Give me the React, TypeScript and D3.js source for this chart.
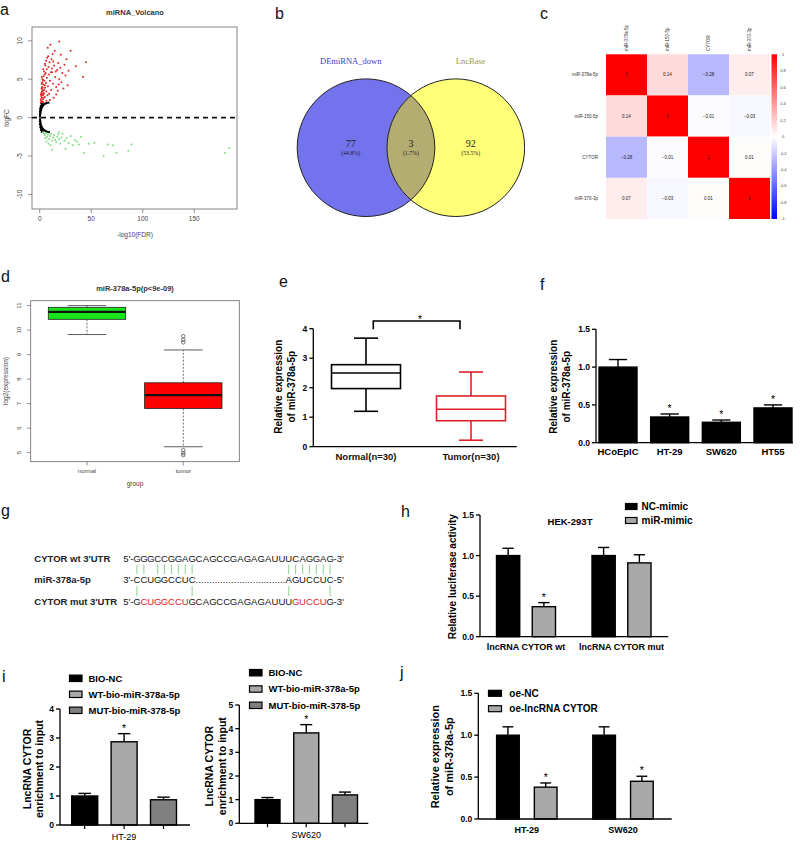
import React from 'react';
import * as d3 from 'd3';

const SANS = "'Liberation Sans', Arial, Helvetica, sans-serif";
const SERIF = "'Liberation Serif', 'DejaVu Serif', serif";

// ---------- a: volcano ----------
const volcanoUp: [number, number][] = [
  [1.5,2.2],[2,2.6],[2.5,3.1],[3,3.5],[2.2,4.0],[3.5,4.3],[2.8,2.9],[4,3.2],[1.8,3.8],[3.2,2.4],[4.5,4.8],[2.6,5.0],
  [5.2,3.9],[3.8,5.4],[6,4.5],[5,2.7],[6.5,3.4],[4.2,6.0],[7,5.2],[2.4,4.6],[3.6,3.0],[5.8,5.8],[8,4.1],[7.5,2.9],
  [9,5.6],[6.8,6.3],[10,4.8],[11,3.6],[8.5,6.6],[12,5.9],[9.5,7.2],[13,4.4],[14,6.8],[11.5,7.6],[15,5.3],[16,4.0],
  [7.2,7.8],[17,6.2],[18,7.1],[12.5,8.3],[19,5.0],[20,6.5],[21,4.6],[22,5.8],[14.5,8.7],[24,6.9],[25,5.5],[10.3,9.5],
  [19,9.9],[30,8.7],[45,7.2],[42,5.3],[35,6.7],[27,4.2],[23,3.8],[16,3.0],[13.5,2.6],[9.8,2.3],[1.2,2.0],[0.9,2.4],
  [1.6,3.2],[2.1,3.4],[2.9,3.9],[3.1,4.9],[1.9,4.4],[4.8,5.6],[5.5,6.8],[6.2,7.4],[8.2,8.0],[4.4,3.6],[3.3,2.0],
  [6.5,2.2],[26,7.6],[28,6.1],[20.5,8.2],[17.5,3.5],[1.4,2.8],[2.3,2.1],[3.9,2.6],[1.1,3.0],[2.7,3.6],[4.9,4.2],
  [2.0,5.3],[3.4,6.3],[5.1,7.0],[7.8,9.1],[11.8,6.4],[13.2,7.3],[9.1,3.1],[10.8,5.9],[15.6,6.0],[18.4,4.3]
];
const volcanoNs: [number, number][] = [
  [0.2,0.1],[0.3,-0.2],[0.4,0.3],[0.5,-0.4],[0.6,0.5],[0.7,-0.6],[0.9,0.7],[1.0,-0.8],[1.2,0.9],[1.3,-1.0],
  [1.5,1.1],[1.7,-1.15],[1.9,1.25],[2.1,-1.3],[2.4,1.4],[2.6,-1.4],[2.9,1.5],[3.1,-1.5],[3.4,1.6],[3.6,-1.55],
  [4.0,1.7],[4.3,-1.65],[4.8,1.8],[5.2,-1.7],[5.8,1.85],[6.3,-1.8],[7.0,1.9],[7.5,-1.85],[0.3,0.6],[0.4,-0.8],
  [0.6,1.0],[0.8,-1.2],[1.1,1.3],[1.4,-1.45],[1.8,1.6],[2.2,-1.6],[2.7,1.75],[3.0,-1.75],[0.2,-0.5],[0.25,0.8],
  [0.5,1.2],[0.7,-1.3],[1.0,1.5],[1.2,-1.6],[1.6,1.85],[2.0,-1.85],[8.5,1.95],[9,-1.9],[0.15,0.4],[0.2,-0.9]
];
const volcanoDown: [number, number][] = [
  [3,-1.9],[4,-2.1],[5,-2.3],[6,-2.0],[7,-2.5],[8,-2.2],[9,-2.8],[10,-2.4],[11,-2.1],[12,-3.0],[13,-2.6],[14,-2.3],
  [15,-2.9],[16,-3.2],[17,-2.5],[18,-2.2],[19,-2.8],[20,-3.4],[21,-2.6],[22,-2.1],[24,-3.0],[26,-2.7],[28,-3.3],
  [30,-2.4],[32,-3.6],[34,-2.9],[38,-3.5],[43,-4.6],[47.5,-3.4],[53,-3.3],[62,-5.0],[66,-3.5],[71,-3.6],[74.5,-4.6],
  [86,-4.3],[89,-3.5],[180,-4.6],[184,-4.0],[12,-4.2],[6.5,-3.1],[8.5,-3.4],[5.5,-2.7],[10.5,-3.6],[18.5,-1.9],
  [25,-4.1],[40,-2.5],[36,-3.1]
];
const volcanoXTicks = [0, 50, 100, 150];
const volcanoYTicks = [-10, -5, 0, 5, 10];

// ---------- b: venn ----------
const vennSets = ['DEmiRNA_down', 'LncBase'];
const vennCounts = ['77', '3', '92'];
const vennPcts = ['(44.8%)', '(1.7%)', '(53.5%)'];

// ---------- c: correlation heatmap ----------
const heatLabels = ['miR-378a-5p', 'miR-150-5p', 'CYTOR', 'miR-370-3p'];
const heatValues = [
  [1, 0.14, -0.28, 0.07],
  [0.14, 1, -0.01, -0.03],
  [-0.28, -0.01, 1, 0.01],
  [0.07, -0.03, 0.01, 1]
];
const heatTicks = [1, 0.8, 0.6, 0.4, 0.2, 0, -0.2, -0.4, -0.6, -0.8, -1];

// ---------- d: TCGA boxplot ----------
const tcgaGroups = ['normal', 'tumor'];
const tcgaStats = [
  { lo: 9.82, q1: 10.44, med: 10.74, q3: 10.93, hi: 11.0, out: [] as number[] },
  { lo: 5.24, q1: 6.8, med: 7.35, q3: 7.85, hi: 9.19, out: [9.75, 9.6, 9.5, 5.1, 4.98, 4.9] }
];
const tcgaTicks = [5, 6, 7, 8, 9, 10, 11];

// ---------- e: qPCR boxplot ----------
const qGroups = ['Normal(n=30)', 'Tumor(n=30)'];
const qStats = [
  { lo: 1.2, q1: 1.97, med: 2.5, q3: 2.78, hi: 3.68 },
  { lo: 0.22, q1: 0.88, med: 1.27, q3: 1.72, hi: 2.53 }
];
const qColors = ['#000000', '#e0202a'];

// ---------- f ----------
const cellLines = ['HCoEpIC', 'HT-29', 'SW620', 'HT55'];
const cellMeans = [1.0, 0.34, 0.27, 0.46];
const cellErrs = [0.1, 0.04, 0.03, 0.04];
const cellSig = [false, true, true, true];

// ---------- g ----------
const seqLabels = ["CYTOR wt 3'UTR", 'miR-378a-5p', "CYTOR mut 3'UTR"];
const wtBases = 'GGGCCGGAGCAGCCGAGAGAUUUCAGGAG';
const mutBases = 'GCUGGCCUGCAGCCGAGAGAUUUGUCCUG';
const mutRed = [1, 2, 3, 4, 5, 6, 7, 23, 24, 25, 26, 27];
const mirLeft = 'CCUGGCCUC';
const mirRight = 'AGUCCUC';
const pairsTop = [0, 1, 3, 4, 5, 6, 7, 8, 22, 23, 24, 25, 26, 27, 28];
const pairsBottom = [0, 8, 22, 28];

// ---------- h ----------
const lucGroups = ['lncRNA CYTOR wt', 'lncRNA CYTOR mut'];
const lucSeries = ['NC-mimic', 'miR-mimic'];
const lucMeans = [[1.0, 0.37], [1.0, 0.91]];
const lucErrs = [[0.09, 0.05], [0.1, 0.1]];
const lucSig = [[false, true], [false, false]];

// ---------- i ----------
const pullSeries = ['BIO-NC', 'WT-bio-miR-378a-5p', 'MUT-bio-miR-378-5p'];
const pullHT29 = [1.0, 2.87, 0.87];
const pullHT29Err = [0.09, 0.28, 0.09];
const pullSW620 = [1.0, 3.82, 1.2];
const pullSW620Err = [0.09, 0.35, 0.12];
const pullSig = [false, true, false];

// ---------- j ----------
const oeGroups = ['HT-29', 'SW620'];
const oeSeries = ['oe-NC', 'oe-lncRNA CYTOR'];
const oeMeans = [[1.0, 0.38], [1.0, 0.45]];
const oeErrs = [[0.1, 0.05], [0.1, 0.06]];
const oeSig = [[false, true], [false, true]];

const GRAY1 = '#a9a9a9';
const GRAY2 = '#808080';

function PanelLabel({ x, y, t }: { x: number; y: number; t: string }) {
  return <text x={x} y={y} fontSize={16} fontFamily={SANS} fill="#111">{t}</text>;
}

function gpYAxis(scale: d3.ScaleLinear<number, number>, x: number, ticks: number[], fmt: (n: number) => string, fs = 8.5) {
  const [d0, d1] = scale.domain();
  return (
    <g>
      <line x1={x} x2={x} y1={scale(d0)} y2={scale(d1)} stroke="#000" strokeWidth={1.3} />
      {ticks.map(t => (
        <g key={t}>
          <line x1={x - 4} x2={x} y1={scale(t)} y2={scale(t)} stroke="#000" strokeWidth={1.3} />
          <text x={x - 6} y={scale(t)} dy="0.35em" textAnchor="end" fontSize={fs} fontWeight="bold" fontFamily={SANS}>{fmt(t)}</text>
        </g>
      ))}
    </g>
  );
}

function barWithErr(key: string, cx: number, w: number, v: number, e: number, y: d3.ScaleLinear<number, number>, fill: string, sig: boolean) {
  const top = y(v), et = y(v + e), base = y(0);
  return (
    <g key={key}>
      <line x1={cx} x2={cx} y1={top} y2={et} stroke="#000" strokeWidth={1.4} />
      <line x1={cx - w * 0.24} x2={cx + w * 0.24} y1={et} y2={et} stroke="#000" strokeWidth={1.4} />
      <rect x={cx - w / 2} y={top} width={w} height={base - top} fill={fill} stroke="#000" strokeWidth={1.4} />
      {sig && <text x={cx} y={et - 2} textAnchor="middle" fontSize={10.5} fontFamily={SANS}>*</text>}
    </g>
  );
}

function RotLabel({ x, y, lines, fs, gap }: { x: number; y: number; lines: string[]; fs: number; gap: number }) {
  return (
    <g>
      {lines.map((l, i) => (
        <text key={i} transform={`translate(${x + i * gap},${y}) rotate(-90)`} textAnchor="middle" dominantBaseline="central"
          fontSize={fs} fontWeight="bold" fontFamily={SANS}>{l}</text>
      ))}
    </g>
  );
}

function PanelA() {
  const x = d3.scaleLinear().domain([-7.5, 191.5]).range([32, 237]);
  const y = d3.scaleLinear().domain([-11.9, 11.8]).range([209, 27]);
  return (
    <g fontFamily={SANS}>
      <PanelLabel x={0} y={15} t="a" />
      <text x={135} y={15} textAnchor="middle" fontSize={7.5} fontWeight="bold" fill="#333">miRNA_Volcano</text>
      <rect x={32} y={27} width={205} height={182} fill="none" stroke="#666" strokeWidth={0.8} />
      {volcanoXTicks.map(t => (
        <g key={t}>
          <line x1={x(t)} x2={x(t)} y1={209} y2={213} stroke="#666" strokeWidth={0.7} />
          <text x={x(t)} y={221} textAnchor="middle" fontSize={6.5} fill="#444">{t}</text>
        </g>
      ))}
      {volcanoYTicks.map(t => (
        <g key={t}>
          <line x1={28} x2={32} y1={y(t)} y2={y(t)} stroke="#666" strokeWidth={0.7} />
          <text transform={`translate(22,${y(t)}) rotate(-90)`} textAnchor="middle" fontSize={6.5} fill="#444">{t}</text>
        </g>
      ))}
      <text x={135} y={237} textAnchor="middle" fontSize={6.5} fill="#444">-log10(FDR)</text>
      <text transform={`translate(9,118) rotate(-90)`} textAnchor="middle" fontSize={6.5} fill="#444">logFC</text>
      {volcanoNs.map((p, i) => <circle key={'n' + i} cx={x(p[0])} cy={y(p[1])} r={1.1} fill="#000" />)}
      {volcanoUp.map((p, i) => <circle key={'u' + i} cx={x(p[0])} cy={y(p[1])} r={1.0} fill="#e02828" />)}
      {volcanoDown.map((p, i) => <circle key={'d' + i} cx={x(p[0])} cy={y(p[1])} r={1.0} fill="#7fdc7f" />)}
      <line x1={32} x2={237} y1={y(0)} y2={y(0)} stroke="#111" strokeWidth={1.6} strokeDasharray="5,4" />
    </g>
  );
}

function PanelB() {
  const cx = d3.scalePoint().domain(vennSets).range([366, 455.8]);
  const r = 68.8, cy = 147.7;
  const lx = cx(vennSets[0])!, rx = cx(vennSets[1])!;
  const mid = (lx + rx) / 2;
  const numX = [350.7, mid, 470.7];
  return (
    <g>
      <PanelLabel x={275} y={19} t="b" />
      <defs>
        <clipPath id="vennclip"><circle cx={lx} cy={cy} r={r} /></clipPath>
      </defs>
      <circle cx={lx} cy={cy} r={r} fill="#7373ee" />
      <circle cx={rx} cy={cy} r={r} fill="#ffff78" />
      <circle cx={rx} cy={cy} r={r} fill="#b3ad72" clipPath="url(#vennclip)" />
      <circle cx={lx} cy={cy} r={r} fill="none" stroke="#222" strokeWidth={1} />
      <circle cx={rx} cy={cy} r={r} fill="none" stroke="#222" strokeWidth={1} />
      <text x={350.7} y={64} textAnchor="middle" fontSize={8.5} fontFamily={SERIF} fill="#3a3acc">{vennSets[0]}</text>
      <text x={470.7} y={64} textAnchor="middle" fontSize={8.5} fontFamily={SERIF} fill="#9a9a50">{vennSets[1]}</text>
      {vennCounts.map((c, i) => (
        <g key={i}>
          <text x={numX[i]} y={147.3} textAnchor="middle" fontSize={10} fontFamily={SERIF} fill="#222">{c}</text>
          <text x={numX[i]} y={154.5} textAnchor="middle" fontSize={5.8} fontFamily={SERIF} fill="#222">{vennPcts[i]}</text>
        </g>
      ))}
    </g>
  );
}

function PanelC() {
  const x = d3.scaleBand().domain(heatLabels).range([606, 770]);
  const y = d3.scaleBand().domain(heatLabels).range([54.3, 219]);
  const color = d3.scaleLinear<string>().domain([-1, 0, 1]).range(['#0000ff', '#ffffff', '#ff0000']);
  const cb = d3.scaleLinear().domain([-1, 1]).range([219, 54.3]);
  return (
    <g fontFamily={SANS}>
      <PanelLabel x={540} y={19} t="c" />
      <defs>
        <linearGradient id="cbgrad" x1="0" y1="1" x2="0" y2="0">
          <stop offset="0%" stopColor={color(-1)} />
          <stop offset="50%" stopColor={color(0)} />
          <stop offset="100%" stopColor={color(1)} />
        </linearGradient>
      </defs>
      {heatValues.map((row, i) => row.map((v, j) => (
        <g key={i + '-' + j}>
          <rect x={x(heatLabels[j])!} y={y(heatLabels[i])!} width={x.bandwidth()} height={y.bandwidth()} fill={color(v)} />
          <text x={x(heatLabels[j])! + x.bandwidth() / 2} y={y(heatLabels[i])! + y.bandwidth() / 2} dy="0.35em"
            textAnchor="middle" fontSize={4.5} fill="#222">{v === 1 ? '1' : d3.format('.2f')(v)}</text>
        </g>
      )))}
      {heatLabels.map(l => (
        <g key={l}>
          <text x={598} y={y(l)! + y.bandwidth() / 2} dy="0.35em" textAnchor="end" fontSize={4.5} fill="#333">{l}</text>
          <text transform={`translate(${x(l)! + x.bandwidth() / 2},51) rotate(-90)`} dy="0.35em" textAnchor="start" fontSize={4.5} fill="#333">{l}</text>
        </g>
      ))}
      <rect x={771.5} y={54.3} width={5.5} height={164.7} fill="url(#cbgrad)" />
      {heatTicks.map(t => (
        <text key={t} x={783} y={cb(t)} dy="0.35em" fontSize={4} textAnchor="middle" fill="#444">{t}</text>
      ))}
    </g>
  );
}

function PanelD() {
  const x = d3.scalePoint().domain(tcgaGroups).range([87, 183.3]);
  const y = d3.scaleLinear().domain([4.63, 11.2]).range([461.7, 300.7]);
  const hw = 38.7;
  const fills = ['#19e619', '#ff0000'];
  return (
    <g fontFamily={SANS}>
      <PanelLabel x={1} y={282} t="d" />
      <text x={135} y={291} textAnchor="middle" fontSize={7.5} fontWeight="bold" fill="#333">miR-378a-5p(p&lt;9e-09)</text>
      <rect x={30.7} y={300.7} width={208.6} height={161} fill="none" stroke="#666" strokeWidth={0.8} />
      {tcgaTicks.map(t => (
        <g key={t}>
          <line x1={27} x2={30.7} y1={y(t)} y2={y(t)} stroke="#666" strokeWidth={0.7} />
          <text transform={`translate(21,${y(t)}) rotate(-90)`} textAnchor="middle" fontSize={6} fill="#444">{t}</text>
        </g>
      ))}
      <text transform={`translate(8,381) rotate(-90)`} textAnchor="middle" fontSize={6.5} fill="#444">log2(expression)</text>
      {tcgaGroups.map((g, i) => {
        const s = tcgaStats[i];
        const cx = x(g)!;
        return (
          <g key={g}>
            <line x1={cx} x2={cx} y1={461.7} y2={465.5} stroke="#666" strokeWidth={0.7} />
            <text x={cx} y={473} textAnchor="middle" fontSize={6} fill="#444">{g}</text>
            <line x1={cx} x2={cx} y1={y(s.q3)} y2={y(s.hi)} stroke="#333" strokeWidth={0.7} strokeDasharray="2,1.5" />
            <line x1={cx} x2={cx} y1={y(s.q1)} y2={y(s.lo)} stroke="#333" strokeWidth={0.7} strokeDasharray="2,1.5" />
            <line x1={cx - hw / 2} x2={cx + hw / 2} y1={y(s.hi)} y2={y(s.hi)} stroke="#333" strokeWidth={0.8} />
            <line x1={cx - hw / 2} x2={cx + hw / 2} y1={y(s.lo)} y2={y(s.lo)} stroke="#333" strokeWidth={0.8} />
            <rect x={cx - hw} y={y(s.q3)} width={hw * 2} height={y(s.q1) - y(s.q3)} fill={fills[i]} stroke="#222" strokeWidth={0.8} />
            <line x1={cx - hw} x2={cx + hw} y1={y(s.med)} y2={y(s.med)} stroke="#111" strokeWidth={2.2} />
            {s.out.map((o, k) => <circle key={k} cx={cx} cy={y(o)} r={1.8} fill="none" stroke="#444" strokeWidth={0.7} />)}
          </g>
        );
      })}
      <text x={135} y={486} textAnchor="middle" fontSize={6.5} fill="#444">group</text>
    </g>
  );
}

function PanelE() {
  const x = d3.scalePoint().domain(qGroups).range([366, 471]);
  const y = d3.scaleLinear().domain([0, 4]).range([446.7, 328.7]);
  const hw = 34.5, cw = 12;
  return (
    <g fontFamily={SANS}>
      <PanelLabel x={279} y={287} t="e" />
      {gpYAxis(y, 313.3, [0, 1, 2, 3, 4], d3.format('d'), 8.5)}
      <line x1={313.3} x2={516.7} y1={y(0)} y2={y(0)} stroke="#000" strokeWidth={1.3} />
      <RotLabel x={278} y={386.7} lines={['Relative expression', 'of miR-378a-5p']} fs={10} gap={13.5} />
      {qGroups.map((g, i) => {
        const s = qStats[i];
        const cx = x(g)!;
        const c = qColors[i];
        return (
          <g key={g} stroke={c} strokeWidth={1.6} fill="none">
            <line x1={cx} x2={cx} y1={y(s.q3)} y2={y(s.hi)} />
            <line x1={cx} x2={cx} y1={y(s.q1)} y2={y(s.lo)} />
            <line x1={cx - cw} x2={cx + cw} y1={y(s.hi)} y2={y(s.hi)} />
            <line x1={cx - cw} x2={cx + cw} y1={y(s.lo)} y2={y(s.lo)} />
            <rect x={cx - hw} y={y(s.q3)} width={hw * 2} height={y(s.q1) - y(s.q3)} />
            <line x1={cx - hw} x2={cx + hw} y1={y(s.med)} y2={y(s.med)} />
            <text x={cx} y={460} textAnchor="middle" fontSize={9.5} fontWeight="bold" fill="#111" stroke="none">{g}</text>
          </g>
        );
      })}
      <path d={`M373.3,${329.3}V321H460V329.3`} fill="none" stroke="#000" strokeWidth={1.6} />
      <text x={420} y={323} textAnchor="middle" fontSize={10.5} fill="#000">*</text>
    </g>
  );
}

function PanelF() {
  const x = d3.scalePoint().domain(cellLines).range([618, 773]);
  const y = d3.scaleLinear().domain([0, 1.5]).range([442.7, 329.3]);
  const w = 38;
  return (
    <g fontFamily={SANS}>
      <PanelLabel x={540} y={290} t="f" />
      {gpYAxis(y, 596, [0, 0.5, 1, 1.5], d3.format('.1f'), 8.5)}
      <RotLabel x={553} y={386.7} lines={['Relative expression', 'of miR-378a-5p']} fs={10} gap={13.5} />
      {cellLines.map((c, i) => barWithErr(c, x(c)!, w, cellMeans[i], cellErrs[i], y, '#000', cellSig[i]))}
      <line x1={596} x2={793} y1={y(0)} y2={y(0)} stroke="#000" strokeWidth={1.3} />
      {cellLines.map(c => (
        <text key={c} x={x(c)!} y={455} textAnchor="middle" fontSize={9.5} fontWeight="bold">{c}</text>
      ))}
    </g>
  );
}

function PanelG() {
  const bx = d3.scaleLinear().domain([0, 29]).range([133.5, 333.6]);
  const step = bx(1) - bx(0);
  const cx = (i: number) => bx(i) + step / 2;
  const rows = [561.7, 583.4, 605];
  const fs = 9.5;
  const ink = '#111';
  return (
    <g fontFamily={SANS} fontSize={fs}>
      <PanelLabel x={1} y={516} t="g" />
      {seqLabels.map((l, i) => (
        <text key={l} x={34.3} y={rows[i]} fontWeight="bold" fill="#222">{l}</text>
      ))}
      <text x={bx(0)} y={rows[0]} textAnchor="end" fill={ink}>5'-</text>
      {wtBases.split('').map((b, i) => (
        <text key={'w' + i} x={cx(i)} y={rows[0]} textAnchor="middle" fill={ink}>{b}</text>
      ))}
      <text x={bx(29)} y={rows[0]} fill={ink}>-3'</text>
      <text x={bx(0)} y={rows[1]} textAnchor="end" fill={ink}>3'-</text>
      {mirLeft.split('').map((b, i) => (
        <text key={'l' + i} x={cx(i)} y={rows[1]} textAnchor="middle" fill={ink}>{b}</text>
      ))}
      <text x={bx(9)} y={rows[1]} textLength={bx(22) - bx(9)} lengthAdjust="spacing" fill={ink}>{'.'.repeat(33)}</text>
      {mirRight.split('').map((b, i) => (
        <text key={'r' + i} x={cx(22 + i)} y={rows[1]} textAnchor="middle" fill={ink}>{b}</text>
      ))}
      <text x={bx(29)} y={rows[1]} fill={ink}>-5'</text>
      <text x={bx(0)} y={rows[2]} textAnchor="end" fill={ink}>5'-</text>
      {mutBases.split('').map((b, i) => (
        <text key={'m' + i} x={cx(i)} y={rows[2]} textAnchor="middle" fill={mutRed.includes(i) ? '#e02020' : ink}>{b}</text>
      ))}
      <text x={bx(29)} y={rows[2]} fill={ink}>-3'</text>
      {pairsTop.map(i => <line key={'pt' + i} x1={cx(i)} x2={cx(i)} y1={564.5} y2={574} stroke="#7fcf7f" strokeWidth={0.9} />)}
      {pairsBottom.map(i => <line key={'pb' + i} x1={cx(i)} x2={cx(i)} y1={586} y2={596} stroke="#7fcf7f" strokeWidth={0.9} />)}
    </g>
  );
}

function PanelH() {
  const gx = d3.scalePoint().domain(lucGroups).range([526, 621.5]);
  const sx = d3.scaleBand().domain(lucSeries).range([-29.5, 29.5]).paddingInner(0.35).paddingOuter(0);
  const y = d3.scaleLinear().domain([0, 1.5]).range([636.7, 515]);
  const fills = ['#000', GRAY1];
  return (
    <g fontFamily={SANS}>
      <PanelLabel x={401} y={517} t="h" />
      {gpYAxis(y, 480, [0, 0.5, 1, 1.5], d3.format('.1f'), 8.5)}
      <RotLabel x={452} y={576.7} lines={['Relative luciferase activity']} fs={10} gap={0} />
      {lucGroups.map((g, gi) => lucSeries.map((s, si) =>
        barWithErr(g + s, gx(g)! + sx(s)! + sx.bandwidth() / 2, sx.bandwidth(), lucMeans[gi][si], lucErrs[gi][si], y, fills[si], lucSig[gi][si])
      ))}
      <line x1={480} x2={668.3} y1={y(0)} y2={y(0)} stroke="#000" strokeWidth={1.3} />
      {lucGroups.map(g => (
        <text key={g} x={gx(g)!} y={650} textAnchor="middle" fontSize={9} fontWeight="bold">{g}</text>
      ))}
      <text x={570} y={525} textAnchor="middle" fontSize={9.5} fontWeight="bold">HEK-293T</text>
      {lucSeries.map((s, i) => (
        <g key={s}>
          <rect x={625.5} y={503.5 + i * 14} width={11.5} height={6} fill={fills[i]} stroke="#000" strokeWidth={1.2} />
          <text x={641.5} y={510.3 + i * 14} fontSize={10} fontWeight="bold">{s}</text>
        </g>
      ))}
    </g>
  );
}

function PullPanel({ x0, x1, y0, yTop, yMax, ticks, vals, errs, xlabel, cxs, w, legX, legY, legGap, labX }: any) {
  const x = d3.scalePoint().domain(pullSeries).range(cxs);
  const y = d3.scaleLinear().domain([0, yMax]).range([y0, yTop]);
  const fills = ['#000', GRAY1, GRAY2];
  return (
    <g fontFamily={SANS}>
      {gpYAxis(y, x0, ticks, d3.format('d'), 8.5)}
      <RotLabel x={labX} y={(y0 + yTop) / 2 + 2} lines={['LncRNA CYTOR', 'enrichment to input']} fs={10.5} gap={12.6} />
      {pullSeries.map((s, i) => barWithErr(s, x(s)!, w, vals[i], errs[i], y, fills[i], pullSig[i]))}
      <line x1={x0} x2={x1} y1={y0} y2={y0} stroke="#000" strokeWidth={1.3} />
      {pullSeries.map(s => <line key={s} x1={x(s)!} x2={x(s)!} y1={y0} y2={y0 + 4} stroke="#000" strokeWidth={1.2} />)}
      <text x={x(pullSeries[1])!} y={y0 + 15} textAnchor="middle" fontSize={9}>{xlabel}</text>
      {pullSeries.map((s, i) => (
        <g key={'lg' + s}>
          <rect x={legX} y={legY + i * legGap - 3.2} width={12.5} height={6.4} fill={fills[i]} stroke="#000" strokeWidth={1.2} />
          <text x={legX + 19} y={legY + i * legGap} dy="0.35em" fontSize={9.5} fontWeight="bold">{s}</text>
        </g>
      ))}
    </g>
  );
}

function PanelI() {
  return (
    <g>
      <PanelLabel x={2} y={682} t="i" />
      <PullPanel x0={60} x1={190} y0={825} yTop={709} yMax={4} ticks={[0, 1, 2, 3, 4]} vals={pullHT29} errs={pullHT29Err}
        xlabel="HT-29" cxs={[84.7, 163.5]} w={26} legX={69.5} legY={678.3} legGap={16} labX={26.7} />
      <PullPanel x0={239.3} x1={368.3} y0={823.3} yTop={705} yMax={5} ticks={[0, 1, 2, 3, 4, 5]} vals={pullSW620} errs={pullSW620Err}
        xlabel="SW620" cxs={[267.5, 345]} w={25} legX={249.5} legY={672.7} legGap={16.3} labX={209.3} />
    </g>
  );
}

function PanelJ() {
  const gx = d3.scalePoint().domain(oeGroups).range([526.8, 623]);
  const sx = d3.scaleBand().domain(oeSeries).range([-30.2, 30.2]).paddingInner(0.4).paddingOuter(0);
  const y = d3.scaleLinear().domain([0, 1.5]).range([819, 693.3]);
  const fills = ['#000', GRAY1];
  return (
    <g fontFamily={SANS}>
      <PanelLabel x={400} y={678} t="j" />
      {gpYAxis(y, 478.3, [0, 0.5, 1, 1.5], d3.format('.1f'), 8.5)}
      <RotLabel x={435} y={756.7} lines={['Relative expression', 'of miR-378a-5p']} fs={11} gap={13.5} />
      {oeGroups.map((g, gi) => oeSeries.map((s, si) =>
        barWithErr(g + s, gx(g)! + sx(s)! + sx.bandwidth() / 2, sx.bandwidth(), oeMeans[gi][si], oeErrs[gi][si], y, fills[si], oeSig[gi][si])
      ))}
      <line x1={478.3} x2={671.7} y1={y(0)} y2={y(0)} stroke="#000" strokeWidth={1.3} />
      {oeGroups.map(g => (
        <text key={g} x={gx(g)!} y={832.5} textAnchor="middle" fontSize={9} fontWeight="bold">{g}</text>
      ))}
      {oeSeries.map((s, i) => (
        <g key={s}>
          <rect x={488.5} y={690.3 + i * 15.4} width={13} height={6} fill={fills[i]} stroke="#000" strokeWidth={1.2} />
          <text x={509.3} y={693.3 + i * 15.4} dy="0.35em" fontSize={10} fontWeight="bold">{s}</text>
        </g>
      ))}
    </g>
  );
}

export default function App() {
  return (
    <svg width={800} height={841} viewBox="0 0 800 841" style={{ position: 'absolute', left: 0, top: 0, background: '#fff' }}>
      <rect width={800} height={841} fill="#fff" />
      <PanelA />
      <PanelB />
      <PanelC />
      <PanelD />
      <PanelE />
      <PanelF />
      <PanelG />
      <PanelH />
      <PanelI />
      <PanelJ />
    </svg>
  );
}
